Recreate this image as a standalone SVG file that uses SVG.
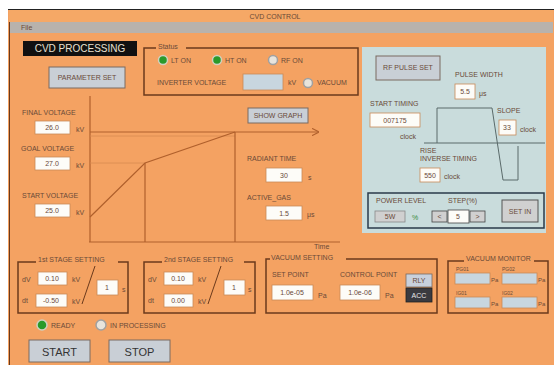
<svg xmlns="http://www.w3.org/2000/svg" width="555" height="365" viewBox="0 0 555 365">
<defs>
<style>
text{font-family:"Liberation Sans",Arial,sans-serif;font-size:7px;fill:#6a4a38}
.t{font-size:7px}
.btn{fill:#c9cfd6;stroke:#7a6a60;stroke-width:1}
.inp{fill:#fdfcf8;stroke:#c98a58;stroke-width:0.8}
.grp{fill:none;stroke:#6b3a1c;stroke-width:1.5}
.ax{stroke:#b0602c;stroke-width:1.2;fill:none}
.fl{stroke:#d88a50;stroke-width:0.8;fill:none}
.wv{stroke:#5a6a6a;stroke-width:1;fill:none}
.ledg{fill:#2a9a2a;stroke:#d0d0c0;stroke-width:1.5}
.ledo{fill:#e8e4dc;stroke:#a0a0a0;stroke-width:1.5}
.c{text-anchor:middle}
.gb{fill:#c8d6df;stroke:#c98a58;stroke-width:0.8}
</style>
<marker id="ar" markerWidth="6" markerHeight="6" refX="5" refY="3" orient="auto"><path d="M0,0 L6,3 L0,6" fill="none" stroke="#b0602c" stroke-width="1"/></marker>
</defs>
<rect x="0" y="0" width="555" height="365" fill="#ffffff"/>
<rect x="8" y="9" width="546" height="356" fill="#f4a262"/>
<rect x="9" y="10" width="544" height="12" fill="#f5a866"/>
<line x1="8" y1="9.5" x2="554" y2="9.5" stroke="#222" stroke-width="1"/>
<text x="275" y="19" class="c">CVD CONTROL</text>
<rect x="9" y="22" width="544" height="11" fill="#b8b2ac"/>
<text x="21" y="30">File</text>
<line x1="9.5" y1="22" x2="9.5" y2="365" stroke="#6b3a1c" stroke-width="1"/>

<g id="title">
<rect x="23" y="41" width="114" height="15" fill="#111"/>
<text x="80" y="52" class="c" style="fill:#e8e0d0;font-size:10px">CVD PROCESSING</text>
</g>
<g id="parameter-set">
<rect x="49" y="67" width="76" height="21" class="btn"/>
<text x="87" y="80" class="c">PARAMETER SET</text>
</g>

<g id="status">
<rect x="144" y="48" width="214" height="47" class="grp"/>
<rect x="156" y="44" width="30" height="6" fill="#f4a262"/>
<text x="158" y="49">Status</text>
<circle cx="163" cy="60" r="4.5" class="ledg"/><text x="171" y="63">LT ON</text>
<circle cx="217" cy="60" r="4.5" class="ledg"/><text x="225" y="63">HT ON</text>
<circle cx="273" cy="60" r="4.5" class="ledo"/><text x="281" y="63">RF ON</text>
<text x="157" y="85">INVERTER VOLTAGE</text>
<rect x="243" y="74" width="40" height="16" class="gb"/>
<text x="288" y="85">kV</text>
<circle cx="308" cy="83" r="4.5" class="ledo"/>
<text x="317" y="85">VACUUM</text>
</g>

<g id="rf-panel">
<rect x="362" y="47" width="184" height="186" fill="#c9dcdc"/>
<rect x="376" y="56" width="64" height="24" class="btn"/>
<text x="408" y="70" class="c">RF PULSE SET</text>
<text x="455" y="77">PULSE WIDTH</text>
<rect x="455" y="84" width="20" height="15" class="inp"/>
<text x="465" y="94" class="c">5.5</text>
<text x="479" y="96">μs</text>
<text x="370" y="106">START TIMING</text>
<rect x="370" y="113" width="50" height="14" class="inp"/>
<text x="395" y="123" class="c">007175</text>
<text x="400" y="139">clock</text>
<polyline points="424,143 437,143 437,108 492,108 503,180 518,180 518,146" class="wv"/>
<line x1="437" y1="143" x2="545" y2="143" class="wv"/>
<text x="497" y="113">SLOPE</text>
<rect x="499" y="120" width="17" height="15" class="inp"/>
<text x="507" y="130" class="c">33</text>
<text x="520" y="132">clock</text>
<text x="420" y="153">RISE</text>
<text x="420" y="161">INVERSE TIMING</text>
<rect x="420" y="168" width="20" height="14" class="inp"/>
<text x="430" y="178" class="c">550</text>
<text x="444" y="179">clock</text>
<rect x="368" y="193" width="176" height="35" fill="none" stroke="#2a3a4a" stroke-width="1.5"/>
<text x="376" y="203">POWER LEVEL</text>
<rect x="375" y="211" width="30" height="11" fill="#d0d0d0" stroke="#888" stroke-width="0.8"/>
<text x="390" y="219" class="c">5W</text>
<text x="412" y="220" style="fill:#3a8a3a">%</text>
<text x="448" y="203">STEP(%)</text>
<rect x="432" y="211" width="15" height="11" fill="#d0d0d0" stroke="#444" stroke-width="0.8"/>
<text x="439.5" y="219" class="c">&lt;</text>
<rect x="448" y="210" width="21" height="13" fill="#fdfcf8" stroke="#444" stroke-width="0.8"/>
<text x="458" y="219" class="c">5</text>
<rect x="470" y="211" width="15" height="11" fill="#d0d0d0" stroke="#444" stroke-width="0.8"/>
<text x="477.5" y="219" class="c">&gt;</text>
<rect x="502" y="200" width="36" height="22" fill="#d0d0d0" stroke="#555" stroke-width="1"/>
<text x="520" y="214" class="c">SET IN</text>
</g>

<g id="voltage-inputs">
<text x="22" y="115">FINAL VOLTAGE</text>
<rect x="35" y="121" width="35" height="13" class="inp"/>
<text x="52" y="130" class="c">26.0</text>
<text x="76" y="132">kV</text>
<text x="21" y="151">GOAL VOLTAGE</text>
<rect x="35" y="157" width="35" height="13" class="inp"/>
<text x="52" y="166" class="c">27.0</text>
<text x="76" y="168">kV</text>
<text x="22" y="198">START VOLTAGE</text>
<rect x="35" y="204" width="35" height="13" class="inp"/>
<text x="52" y="213" class="c">25.0</text>
<text x="76" y="215">kV</text>
</g>

<g id="connectors">
<line x1="90" y1="96" x2="90" y2="242" class="ax"/>
<line x1="89" y1="242" x2="340" y2="242" class="ax"/>
<line x1="90" y1="132" x2="318" y2="132" class="ax" marker-end="url(#ar)"/>
<line x1="90" y1="136" x2="235" y2="136" class="fl"/>
<line x1="90" y1="163" x2="145" y2="163" class="fl"/>
<polyline points="90,217 145,163 235,132" class="ax"/>
<line x1="145" y1="163" x2="145" y2="242" class="ax"/>
<line x1="235" y1="132" x2="235" y2="242" class="ax"/>
</g>
<text x="314" y="249">Time</text>

<g id="show-graph">
<rect x="248" y="108" width="60" height="15" class="btn"/>
<text x="278" y="118" class="c">SHOW GRAPH</text>
</g>
<g id="radiant">
<text x="247" y="161">RADIANT TIME</text>
<rect x="266" y="168" width="36" height="14" class="inp"/>
<text x="284" y="178" class="c">30</text>
<text x="308" y="180">s</text>
<text x="247" y="200">ACTIVE_GAS</text>
<rect x="266" y="206" width="36" height="14" class="inp"/>
<text x="284" y="216" class="c">1.5</text>
<text x="307" y="217">μs</text>
</g>

<g id="stage1">
<rect x="18" y="262" width="110" height="51" class="grp"/>
<rect x="36" y="256" width="82" height="8" fill="#f4a262"/>
<text x="38" y="262">1st STAGE SETTING</text>
<text x="22" y="282">dV</text>
<rect x="38" y="272" width="29" height="13" class="inp"/>
<text x="52" y="281" class="c">0.10</text>
<text x="72" y="282">kV</text>
<text x="22" y="303">dt</text>
<rect x="36" y="294" width="31" height="13" class="inp"/>
<text x="51" y="303" class="c">-0.50</text>
<text x="72" y="304">kV</text>
<line x1="82" y1="304" x2="95" y2="266" stroke="#6b3a1c" stroke-width="1"/>
<rect x="97" y="280" width="21" height="15" class="inp"/>
<text x="107" y="290" class="c">1</text>
<text x="122" y="292">s</text>
</g>

<g id="stage2">
<rect x="144" y="262" width="111" height="51" class="grp"/>
<rect x="162" y="256" width="82" height="8" fill="#f4a262"/>
<text x="164" y="262">2nd STAGE SETTING</text>
<text x="148" y="282">dV</text>
<rect x="164" y="272" width="29" height="13" class="inp"/>
<text x="178" y="281" class="c">0.10</text>
<text x="198" y="282">kV</text>
<text x="148" y="303">dt</text>
<rect x="164" y="294" width="29" height="13" class="inp"/>
<text x="178" y="303" class="c">0.00</text>
<text x="198" y="304">kV</text>
<line x1="208" y1="304" x2="221" y2="266" stroke="#6b3a1c" stroke-width="1"/>
<rect x="224" y="280" width="21" height="15" class="inp"/>
<text x="234" y="290" class="c">1</text>
<text x="248" y="292">s</text>
</g>

<g id="vacuum-setting">
<rect x="266" y="259" width="171" height="54" class="grp"/>
<rect x="270" y="254" width="76" height="8" fill="#f4a262"/>
<text x="271" y="260">VACUUM SETTING</text>
<text x="272" y="277">SET POINT</text>
<rect x="272" y="285" width="41" height="15" class="inp"/>
<text x="292" y="295" class="c">1.0e-05</text>
<text x="318" y="298">Pa</text>
<text x="340" y="277">CONTROL POINT</text>
<rect x="340" y="285" width="40" height="15" class="inp"/>
<text x="360" y="295" class="c">1.0e-06</text>
<text x="385" y="298">Pa</text>
<rect x="406" y="274" width="26" height="13" fill="#c8d0dc" stroke="#7a6a60" stroke-width="0.8"/>
<text x="419" y="283" class="c">RLY</text>
<rect x="406" y="288" width="26" height="14" fill="#3a3a40" stroke="#222" stroke-width="0.8"/>
<text x="419" y="298" class="c" style="fill:#e8e8e8">ACC</text>
</g>

<g id="vacuum-monitor">
<rect x="448" y="261" width="100" height="52" class="grp"/>
<rect x="464" y="255" width="70" height="8" fill="#f4a262"/>
<text x="466" y="261">VACUUM MONITOR</text>
<text x="456" y="271" style="font-size:5px">PG01</text>
<rect x="455" y="273" width="35" height="11" class="gb"/>
<text x="491" y="282" style="font-size:6px">Pa</text>
<text x="502" y="271" style="font-size:5px">PG02</text>
<rect x="502" y="273" width="35" height="11" class="gb"/>
<text x="538" y="282" style="font-size:6px">Pa</text>
<text x="456" y="295" style="font-size:5px">IG01</text>
<rect x="455" y="297" width="35" height="11" class="gb"/>
<text x="491" y="306" style="font-size:6px">Pa</text>
<text x="502" y="295" style="font-size:5px">IG02</text>
<rect x="502" y="297" width="35" height="11" class="gb"/>
<text x="538" y="306" style="font-size:6px">Pa</text>
</g>

<g id="ready">
<circle cx="42" cy="325" r="5" class="ledg"/>
<text x="51" y="328">READY</text>
<circle cx="101" cy="325" r="5" class="ledo"/>
<text x="110" y="328">IN PROCESSING</text>
</g>
<g id="start">
<rect x="29" y="340" width="61" height="22" class="btn"/>
<text x="59.5" y="356" class="c" style="font-size:11px;fill:#333">START</text>
</g>
<g id="stop">
<rect x="109" y="340" width="61" height="22" class="btn"/>
<text x="139.5" y="356" class="c" style="font-size:11px;fill:#333">STOP</text>
</g>
</svg>
